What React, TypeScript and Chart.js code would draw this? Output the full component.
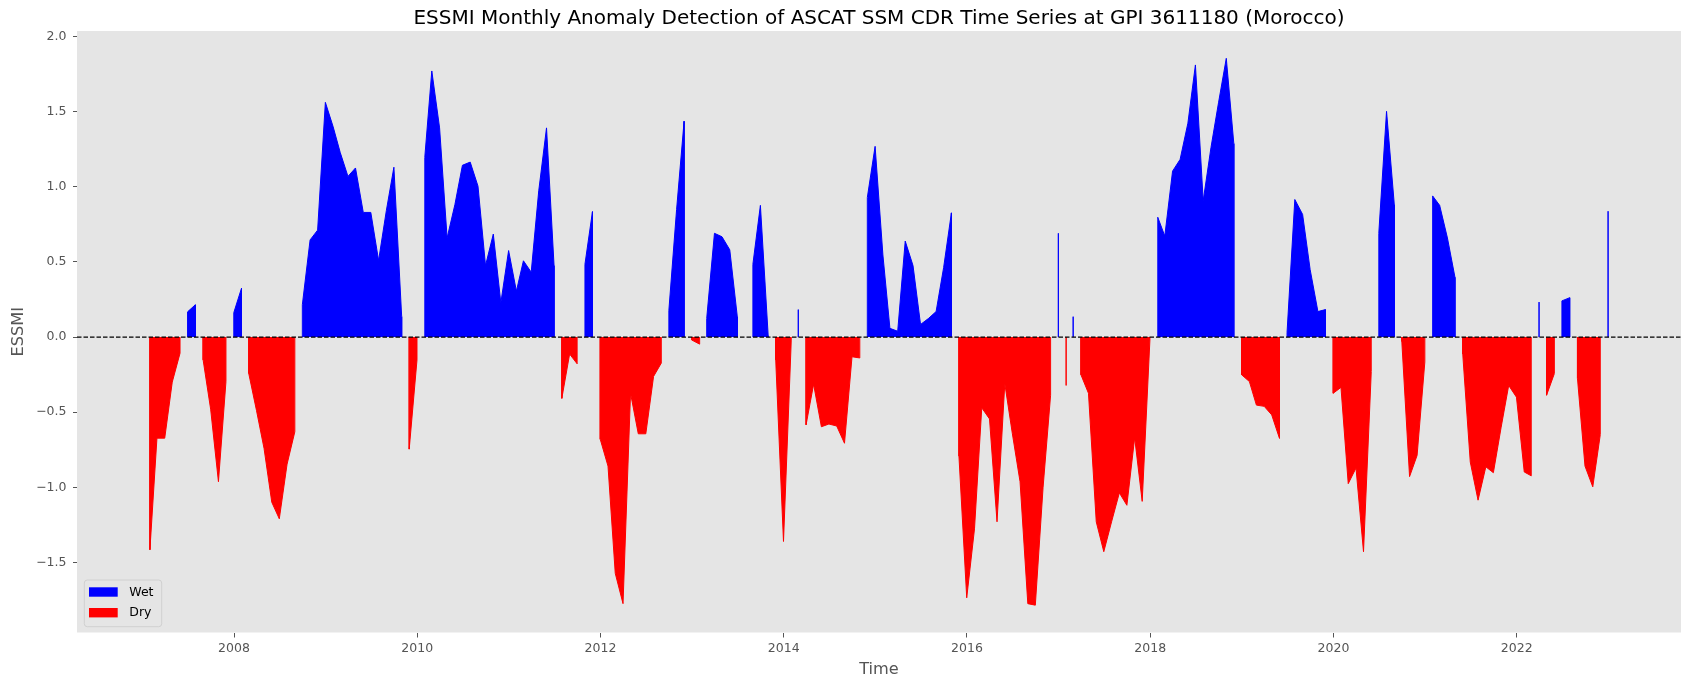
import React, { useEffect, useRef } from "react";
import { Chart, registerables } from "chart.js";

Chart.register(...registerables);

// ---------- DATA (monthly ESSMI, month-end values) ----------
const startYear = 2007;
const essmi2007 = [-1.416, -0.673, -0.673, -0.30, -0.107, 0.168, 0.215, -0.152, -0.48, -0.963, -0.296, 0.162];
const essmi2008 = [0.325, -0.243, -0.49, -0.741, -1.10, -1.21, -0.846, -0.63, 0.215, 0.647, 0.712, 1.563];
const essmi2009 = [1.40, 1.23, 1.07, 1.126, 0.83, 0.83, 0.51, 0.843, 1.131, 0.136, -0.746, -0.152];
const essmi2010 = [1.196, 1.772, 1.393, 0.66, 0.882, 1.144, 1.165, 1.005, 0.476, 0.686, 0.228, 0.576];
const essmi2011 = [0.306, 0.508, 0.432, 0.974, 1.393, 0.476, -0.408, -0.113, -0.178, 0.484, 0.835, -0.68];
const essmi2012 = [-0.859, -1.573, -1.775, -0.374, -0.644, -0.644, -0.262, -0.173, 0.175, 0.85, 1.437, -0.02];
const essmi2013 = [-0.047, 0.123, 0.691, 0.668, 0.581, 0.136, null, 0.484, 0.877, 0.01, -0.152, -1.361];
const essmi2014 = [-0.02, 0.183, -0.584, -0.314, -0.597, -0.579, -0.592, -0.707, -0.131, -0.139, 0.929, 1.27];
const essmi2015 = [0.547, 0.058, 0.039, 0.639, 0.476, 0.084, 0.123, 0.17, 0.463, 0.827, -0.793, -1.736];
const essmi2016 = [-1.277, -0.471, -0.545, -1.23, -0.309, -0.64, -0.963, -1.775, -1.785, -1.0, -0.387, 0.691];
const essmi2017 = [-0.322, 0.136, -0.251, -0.374, -1.23, -1.429, -1.23, -1.037, -1.12, -0.67, -1.094, -0.01];
const essmi2018 = [0.798, 0.673, 1.105, 1.183, 1.424, 1.812, 0.908, 1.262, 1.56, 1.856, 1.288, -0.251];
const essmi2019 = [-0.296, -0.453, -0.461, -0.518, -0.675, 0.03, 0.916, 0.817, 0.45, 0.17, 0.183, -0.374];
const essmi2020 = [-0.335, -0.976, -0.872, -1.429, -0.23, 0.691, 1.503, 0.882, -0.03, -0.929, -0.788, -0.165];
const essmi2021 = [0.94, 0.877, 0.66, 0.398, -0.113, -0.832, -1.086, -0.864, -0.903, -0.6, -0.322, -0.40];
const essmi2022 = [-0.898, -0.924, 0.233, -0.387, -0.243, 0.241, 0.262, -0.275, -0.859, -0.997, -0.649, 0.838];

const yearlyValues: (number | null)[][] = [
  essmi2007, essmi2008, essmi2009, essmi2010, essmi2011, essmi2012, essmi2013, essmi2014,
  essmi2015, essmi2016, essmi2017, essmi2018, essmi2019, essmi2020, essmi2021, essmi2022,
];

const xTickYears = [2008, 2010, 2012, 2014, 2016, 2018, 2020, 2022];
const yTickValues = [-1.5, -1.0, -0.5, 0.0, 0.5, 1.0, 1.5, 2.0];

const TITLE = "ESSMI Monthly Anomaly Detection of ASCAT SSM CDR Time Series at GPI 3611180 (Morocco)";
const X_LABEL = "Time";
const Y_LABEL = "ESSMI";
const WET_LABEL = "Wet";
const DRY_LABEL = "Dry";

const WET_COLOR = "#0000ff";
const DRY_COLOR = "#ff0000";
const FONT = "'DejaVu Sans', sans-serif";
const TICK_SIZE = 12.5;

// month-end date -> decimal year
function monthEndDecimal(year: number, month: number): number {
  const start = Date.UTC(year, 0, 1);
  const next = Date.UTC(year + 1, 0, 1);
  const end = Date.UTC(year, month + 1, 0);
  return year + (end - start) / (next - start);
}

type Pt = { x: number; y: number };

function buildSeries() {
  const xs: number[] = [];
  const vs: (number | null)[] = [];
  yearlyValues.forEach((arr, yi) => {
    arr.forEach((v, m) => {
      xs.push(monthEndDecimal(startYear + yi, m));
      vs.push(v);
    });
  });
  return { xs, vs };
}

function buildRuns(xs: number[], vs: (number | null)[], positive: boolean): Pt[][] {
  const runs: Pt[][] = [];
  let cur: Pt[] | null = null;
  for (let i = 0; i < vs.length; i++) {
    const v = vs[i];
    const ok = v !== null && (positive ? v > 0 : v < 0);
    if (ok) {
      if (!cur) {
        cur = [{ x: xs[i], y: 0 }];
      }
      cur.push({ x: xs[i], y: v as number });
    } else if (cur) {
      cur.push({ x: xs[i - 1], y: 0 });
      runs.push(cur);
      cur = null;
    }
  }
  if (cur) {
    cur.push({ x: xs[vs.length - 1], y: 0 });
    runs.push(cur);
  }
  return runs;
}

export default function App() {
  const canvasRef = useRef<HTMLCanvasElement | null>(null);

  useEffect(() => {
    const canvas = canvasRef.current;
    if (!canvas) return;

    const { xs, vs } = buildSeries();
    const nums = vs.filter((v) => v !== null) as number[];
    const dMin = Math.min(...nums, 0);
    const dMax = Math.max(...nums, 0);
    const yr = dMax - dMin;
    const yMin = dMin - 0.05 * yr;
    const yMax = dMax + 0.05 * yr;
    const xFirst = xs[0];
    const xLast = xs[xs.length - 1];
    const xr = xLast - xFirst;
    const xMin = xFirst - 0.05 * xr;
    const xMax = xLast + 0.05 * xr;

    const wetRuns = buildRuns(xs, vs, true);
    const dryRuns = buildRuns(xs, vs, false);

    const datasets: any[] = [];
    datasets.push({
      label: "zero",
      data: [
        { x: xMin, y: 0 },
        { x: xMax, y: 0 },
      ],
      borderColor: "#000000",
      borderWidth: 1.2,
      borderDash: [4.5, 2],
      pointRadius: 0,
      fill: false,
      order: -1,
    });
    wetRuns.forEach((run) => {
      datasets.push({
        label: WET_LABEL,
        data: run,
        borderColor: WET_COLOR,
        backgroundColor: WET_COLOR,
        borderWidth: 1,
        pointRadius: 0,
        tension: 0,
        fill: "origin",
        order: 1,
      });
    });
    dryRuns.forEach((run) => {
      datasets.push({
        label: DRY_LABEL,
        data: run,
        borderColor: DRY_COLOR,
        backgroundColor: DRY_COLOR,
        borderWidth: 1,
        pointRadius: 0,
        tension: 0,
        fill: "origin",
        order: 1,
      });
    });

    const decorPlugin = {
      id: "decor",
      beforeDraw(chart: any) {
        const { ctx, chartArea } = chart;
        ctx.save();
        ctx.fillStyle = "#ffffff";
        ctx.fillRect(0, 0, chart.width, chart.height);
        ctx.fillStyle = "#e5e5e5";
        ctx.fillRect(chartArea.left, chartArea.top, chartArea.right - chartArea.left, chartArea.bottom - chartArea.top);
        ctx.restore();
      },
      afterDraw(chart: any) {
        const { ctx, chartArea } = chart;
        const cx = (chartArea.left + chartArea.right) / 2;
        const cy = (chartArea.top + chartArea.bottom) / 2;
        ctx.save();
        // title
        ctx.fillStyle = "#000000";
        ctx.font = `20px ${FONT}`;
        ctx.textAlign = "center";
        ctx.textBaseline = "middle";
        ctx.fillText(TITLE, cx, 18.5);
        // x label
        ctx.fillStyle = "#555555";
        ctx.font = `16.2px ${FONT}`;
        ctx.fillText(X_LABEL, cx, 669.5);
        // y label
        ctx.save();
        ctx.translate(18.5, cy);
        ctx.rotate(-Math.PI / 2);
        ctx.fillText(Y_LABEL, 0, 0);
        ctx.restore();

        // legend
        const lx = chartArea.left + 7.3;
        const ly = chartArea.bottom - 52.5;
        const lw = 77.4;
        const lh = 46.7;
        ctx.fillStyle = "rgba(229,229,229,0.8)";
        ctx.strokeStyle = "#d0d0d0";
        ctx.lineWidth = 1;
        ctx.beginPath();
        const r = 3;
        ctx.moveTo(lx + r, ly);
        ctx.lineTo(lx + lw - r, ly);
        ctx.quadraticCurveTo(lx + lw, ly, lx + lw, ly + r);
        ctx.lineTo(lx + lw, ly + lh - r);
        ctx.quadraticCurveTo(lx + lw, ly + lh, lx + lw - r, ly + lh);
        ctx.lineTo(lx + r, ly + lh);
        ctx.quadraticCurveTo(lx, ly + lh, lx, ly + lh - r);
        ctx.lineTo(lx, ly + r);
        ctx.quadraticCurveTo(lx, ly, lx + r, ly);
        ctx.closePath();
        ctx.fill();
        ctx.stroke();

        const items = [
          { label: WET_LABEL, color: WET_COLOR },
          { label: DRY_LABEL, color: DRY_COLOR },
        ];
        items.forEach((it, i) => {
          const rowY = ly + 12 + i * 20.7;
          ctx.fillStyle = it.color;
          ctx.fillRect(lx + 4.7, rowY - 4.7, 28.7, 9.4);
          ctx.fillStyle = "#000000";
          ctx.font = `${TICK_SIZE}px ${FONT}`;
          ctx.textAlign = "left";
          ctx.textBaseline = "middle";
          ctx.fillText(it.label, lx + 45, rowY + 0.5);
        });
        ctx.restore();
      },
    };

    const chart = new Chart(canvas, {
      type: "line",
      data: { datasets },
      options: {
        responsive: false,
        animation: false,
        devicePixelRatio: 1,
        layout: { padding: { left: 0, right: 9, top: 31, bottom: 0 } },
        plugins: {
          legend: { display: false },
          title: { display: false },
          tooltip: { enabled: false },
        },
        scales: {
          x: {
            type: "linear",
            min: xMin,
            max: xMax,
            afterBuildTicks: (s: any) => {
              s.ticks = xTickYears.map((v) => ({ value: v }));
            },
            afterFit: (s: any) => {
              s.height = 57.5;
            },
            ticks: {
              autoSkip: false,
              maxRotation: 0,
              padding: 4,
              color: "#555555",
              font: { family: FONT, size: TICK_SIZE },
              callback: (v: any) => String(v),
            },
            grid: {
              display: true,
              drawOnChartArea: false,
              drawTicks: true,
              tickLength: 5,
              tickColor: "#555555",
              tickWidth: 1,
            },
            border: { display: false },
          },
          y: {
            type: "linear",
            min: yMin,
            max: yMax,
            afterBuildTicks: (s: any) => {
              s.ticks = yTickValues.map((v) => ({ value: v }));
            },
            afterFit: (s: any) => {
              s.width = 77;
            },
            ticks: {
              autoSkip: false,
              padding: 6.5,
              color: "#555555",
              font: { family: FONT, size: TICK_SIZE },
              callback: (v: any) => Number(v).toFixed(1).replace("-", "\u2212"),
            },
            grid: {
              display: true,
              drawOnChartArea: false,
              drawTicks: true,
              tickLength: 4,
              tickColor: "#555555",
              tickWidth: 1,
            },
            border: { display: false },
          },
        },
      },
      plugins: [decorPlugin],
    });

    return () => {
      chart.destroy();
    };
  }, []);

  return (
    <div style={{ position: "fixed", left: 0, top: 0, width: 1690, height: 690, background: "#ffffff" }}>
      <canvas ref={canvasRef} width={1690} height={690} style={{ display: "block", width: 1690, height: 690 }} />
    </div>
  );
}
